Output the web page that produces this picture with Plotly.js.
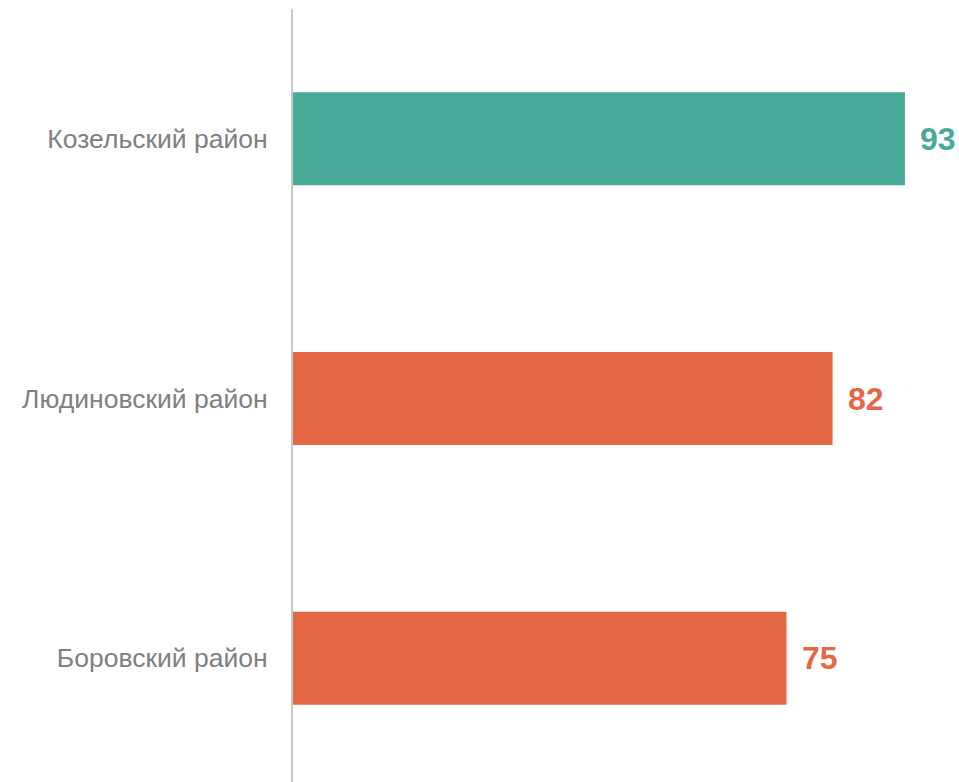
<!DOCTYPE html>
<html>
<head>
<meta charset="utf-8">
<script src="https://cdn.plot.ly/plotly-3.0.1.min.js"></script>
<style>html,body{margin:0;padding:0;overflow:hidden;background:#fff;}</style>
</head>
<body>
<div id="chart"></div>
<script>
const categories = ["Козельский район", "Людиновский район", "Боровский район"];
const values = [93, 82, 75];
const barColors = ["#48AA98", "#E46846", "#E46846"];

const trace = {
  type: 'bar',
  orientation: 'h',
  y: categories,
  x: values,
  marker: {color: barColors},
  width: 0.358,
  hoverinfo: 'none'
};

const annotations = categories.map((c, i) => ({
  x: values[i], y: c, xref: 'x', yref: 'y',
  text: String(values[i]),
  showarrow: false, xanchor: 'left', xshift: 13,
  font: {family: 'Liberation Sans, Arial, sans-serif', size: 32, color: barColors[i], weight: 'bold'}
}));

const layout = {
  width: 959, height: 788,
  margin: {l: 293, r: 8, t: 9, b: 0},
  paper_bgcolor: '#fff', plot_bgcolor: '#fff',
  showlegend: false,
  xaxis: {range: [0, 100], visible: false, showgrid: false, zeroline: false},
  yaxis: {
    type: 'category', autorange: 'reversed',
    showline: true, linecolor: '#c8c8c8', linewidth: 2,
    showgrid: false, zeroline: false, ticks: '',
    ticklabelstandoff: 18,
    tickfont: {family: 'Liberation Sans, Arial, sans-serif', size: 26.5, color: '#808080'}
  },
  annotations: annotations
};

Plotly.newPlot('chart', [trace], layout, {staticPlot: true, displayModeBar: false});
</script>
</body>
</html>
